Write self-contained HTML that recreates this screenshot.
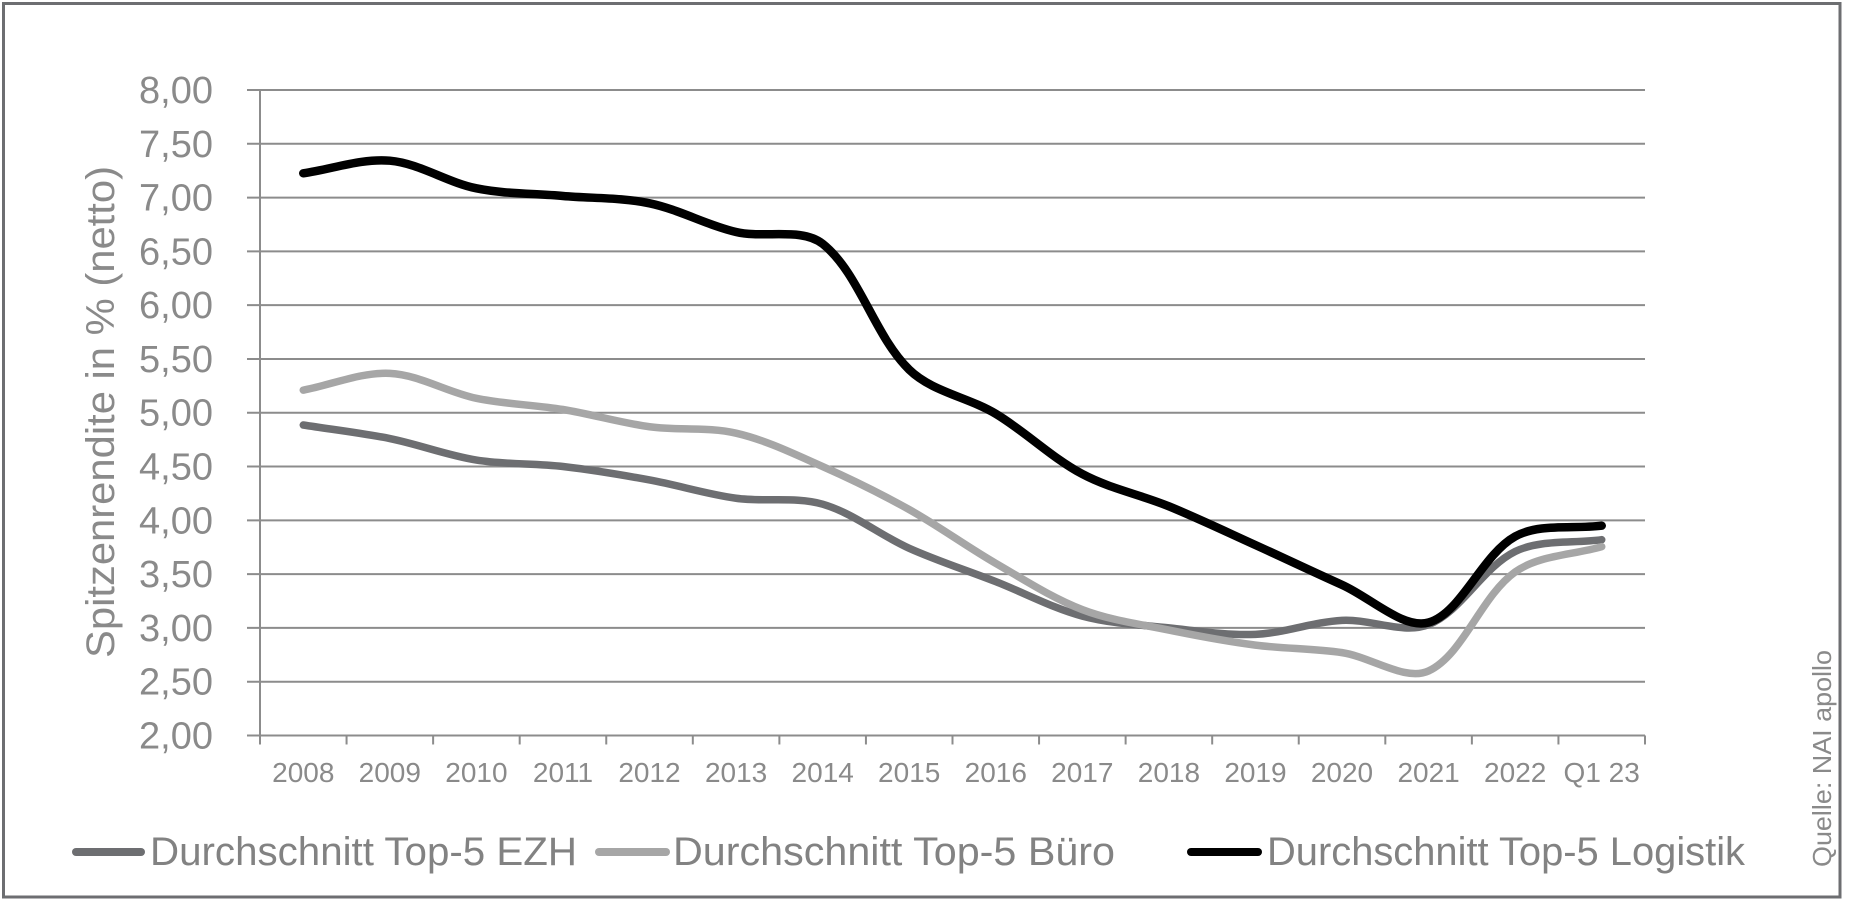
<!DOCTYPE html>
<html>
<head>
<meta charset="utf-8">
<style>
  html,body{margin:0;padding:0;background:#fff;}
  svg{display:block;}
  text{font-family:"Liberation Sans", Arial, sans-serif;}
</style>
</head>
<body>
<svg id="chart" width="1850" height="910" viewBox="0 0 1850 910" xmlns="http://www.w3.org/2000/svg">
  <rect x="0" y="0" width="1850" height="910" fill="#ffffff"/>
  <!-- outer frame -->
  <rect x="3.5" y="3.5" width="1836.5" height="893.5" fill="none" stroke="#6d6e71" stroke-width="3"/>

  <g id="grid" stroke="#8c8c8c" stroke-width="2" fill="none"></g>
  <g id="ylabels" fill="#8a8a8a" font-size="38" text-anchor="end"></g>
  <g id="xlabels" fill="#8a8a8a" font-size="28" text-anchor="middle"></g>

  <!-- y axis title -->
  <text x="0" y="0" fill="#8a8a8a" font-size="40" transform="translate(114,658) rotate(-90)" textLength="492" lengthAdjust="spacingAndGlyphs">Spitzenrendite in % (netto)</text>

  <!-- source -->
  <text x="0" y="0" fill="#8a8a8a" font-size="26" transform="translate(1831,867) rotate(-90)" textLength="217" lengthAdjust="spacingAndGlyphs">Quelle: NAI apollo</text>

  <g id="series" fill="none" stroke-linecap="round" stroke-linejoin="round"></g>

  <!-- legend -->
  <line x1="76" y1="852" x2="141" y2="852" stroke="#6d6e71" stroke-width="8" stroke-linecap="round"/>
  <text x="150" y="865" fill="#828282" font-size="40" textLength="427" lengthAdjust="spacingAndGlyphs">Durchschnitt Top-5 EZH</text>
  <line x1="599" y1="852" x2="666" y2="852" stroke="#a6a6a6" stroke-width="8" stroke-linecap="round"/>
  <text x="673" y="865" fill="#828282" font-size="40" textLength="442" lengthAdjust="spacingAndGlyphs">Durchschnitt Top-5 Büro</text>
  <line x1="1191" y1="852" x2="1258" y2="852" stroke="#000000" stroke-width="8" stroke-linecap="round"/>
  <text x="1267" y="865" fill="#828282" font-size="40" textLength="478" lengthAdjust="spacingAndGlyphs">Durchschnitt Top-5 Logistik</text>
</svg>
<script>
(function(){
  var NS="http://www.w3.org/2000/svg";
  var x0=260, xEnd=1645, n=16, dx=(xEnd-x0)/n;
  var yTop=90, unit=107.58;
  function X(i){return x0+dx*(i+0.5);}
  function Y(v){return yTop+(8-v)*unit;}
  function el(tag,attrs,parent,txt){
    var e=document.createElementNS(NS,tag);
    for(var k in attrs)e.setAttribute(k,attrs[k]);
    if(txt!==undefined)e.textContent=txt;
    parent.appendChild(e);return e;
  }
  var grid=document.getElementById('grid');
  var yl=document.getElementById('ylabels');
  var xl=document.getElementById('xlabels');
  for(var k=0;k<=12;k++){
    var v=2+k*0.5, y=Y(v);
    el('line',{x1:247,y1:y,x2:xEnd,y2:y},grid);
    el('text',{x:213,y:(y+13).toFixed(1)},yl,v.toFixed(2).replace('.',','));
  }
  var yAxisBottom=Y(2)+9;
  el('line',{x1:x0,y1:yTop,x2:x0,y2:yAxisBottom},grid);
  for(var i=1;i<=n;i++){
    var xx=x0+dx*i;
    el('line',{x1:xx,y1:Y(2),x2:xx,y2:yAxisBottom},grid);
  }
  var cats=["2008","2009","2010","2011","2012","2013","2014","2015","2016","2017","2018","2019","2020","2021","2022","Q1 23"];
  cats.forEach(function(c,i){ el('text',{x:X(i).toFixed(1),y:782},xl,c); });

  function dist(a,b){return Math.sqrt((a[0]-b[0])*(a[0]-b[0])+(a[1]-b[1])*(a[1]-b[1]));}
  function pathFor(vals){
    var p=vals.map(function(v,i){return [X(i),Y(v)];});
    var m=p.length, cin=[], cout=[];
    for(var i=0;i<m;i++){
      var prev=p[i-1]||p[i], next=p[i+1]||p[i];
      var tx=next[0]-prev[0], ty=next[1]-prev[1];
      var d0=dist(prev,p[i]), d1=dist(p[i],next), s=d0+d1;
      if(s===0){cin.push(p[i]);cout.push(p[i]);continue;}
      var t=1/3;
      cout.push([p[i][0]+tx*t*d1/s, p[i][1]+ty*t*d1/s]);
      cin.push([p[i][0]-tx*t*d0/s, p[i][1]-ty*t*d0/s]);
    }
    var d="M"+p[0][0].toFixed(2)+","+p[0][1].toFixed(2);
    for(var j=0;j<m-1;j++){
      d+=" C"+cout[j][0].toFixed(2)+","+cout[j][1].toFixed(2)+" "+cin[j+1][0].toFixed(2)+","+cin[j+1][1].toFixed(2)+" "+p[j+1][0].toFixed(2)+","+p[j+1][1].toFixed(2);
    }
    return d;
  }
  var ezh=[4.886,4.76,4.56,4.50,4.375,4.205,4.15,3.74,3.43,3.11,3.00,2.94,3.07,3.03,3.71,3.82];
  var buero=[5.21,5.366,5.134,5.03,4.87,4.81,4.50,4.10,3.60,3.17,2.98,2.84,2.77,2.60,3.52,3.755];
  var logi=[7.226,7.343,7.086,7.015,6.947,6.68,6.57,5.40,4.99,4.43,4.13,3.77,3.40,3.05,3.85,3.95];
  var s=document.getElementById('series');
  el('path',{d:pathFor(ezh),stroke:"#6d6e71","stroke-width":7.5},s);
  el('path',{d:pathFor(buero),stroke:"#a6a6a6","stroke-width":7.5},s);
  el('path',{d:pathFor(logi),stroke:"#000000","stroke-width":8.5},s);
})();
</script>
</body>
</html>
